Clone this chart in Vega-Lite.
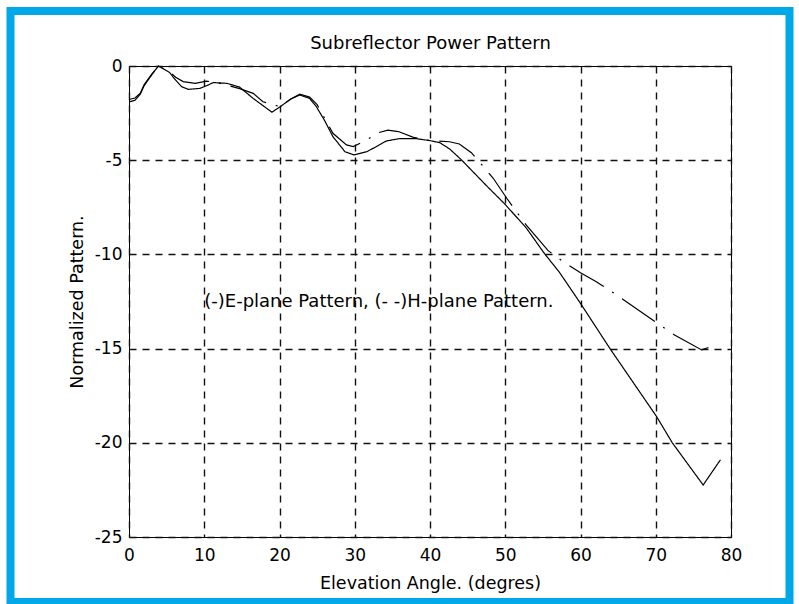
{
  "$schema": "https://vega.github.io/schema/vega-lite/v6.json",
  "width": 602,
  "height": 471,
  "autosize": {"type": "none"},
  "padding": {"left": 129, "top": 66, "right": 68, "bottom": 67},
  "background": "white",
  "config": {
    "view": {"stroke": "#000", "strokeWidth": 1},
    "axis": {
      "grid": true, "gridDash": [7, 6], "gridColor": "#111", "gridWidth": 1.4, "gridOpacity": 1,
      "ticks": false, "domain": false,
      "labelFont": "DejaVu Sans", "labelFontSize": 17, "labelColor": "#000",
      "titleFont": "DejaVu Sans", "titleFontSize": 17.5, "titleFontWeight": "normal", "titleColor": "#000",
      "labelFlush": false, "labelOverlap": false
    },
    "legend": {"padding": 0}
  },
  "resolve": {"axis": {"x": "independent"}},
  "datasets": {
    "curves": [
      {"angle": 0, "value": -1.9, "plane": "E"}, {"angle": 0.8, "value": -1.82, "plane": "E"}, {"angle": 1.5, "value": -1.5, "plane": "E"}, {"angle": 2.0, "value": -1.05, "plane": "E"}, {"angle": 3.0, "value": -0.48, "plane": "E"}, {"angle": 3.9, "value": 0.0, "plane": "E"}, {"angle": 5.4, "value": -0.35, "plane": "E"}, {"angle": 6.2, "value": -0.75, "plane": "E"}, {"angle": 7.0, "value": -1.1, "plane": "E"}, {"angle": 7.9, "value": -1.24, "plane": "E"}, {"angle": 9.4, "value": -1.19, "plane": "E"}, {"angle": 10.3, "value": -1.05, "plane": "E"}, {"angle": 11.2, "value": -0.88, "plane": "E"}, {"angle": 13.0, "value": -0.92, "plane": "E"}, {"angle": 14.7, "value": -1.12, "plane": "E"}, {"angle": 16.5, "value": -1.72, "plane": "E"}, {"angle": 18.3, "value": -2.25, "plane": "E"}, {"angle": 19.0, "value": -2.45, "plane": "E"}, {"angle": 20.1, "value": -2.16, "plane": "E"}, {"angle": 21.5, "value": -1.75, "plane": "E"}, {"angle": 22.7, "value": -1.54, "plane": "E"}, {"angle": 24.0, "value": -1.72, "plane": "E"}, {"angle": 24.9, "value": -2.16, "plane": "E"}, {"angle": 26.0, "value": -2.9, "plane": "E"}, {"angle": 27.1, "value": -3.75, "plane": "E"}, {"angle": 28.7, "value": -4.55, "plane": "E"}, {"angle": 29.9, "value": -4.72, "plane": "E"}, {"angle": 31.6, "value": -4.55, "plane": "E"}, {"angle": 33.0, "value": -4.25, "plane": "E"}, {"angle": 34.2, "value": -3.98, "plane": "E"}, {"angle": 36.0, "value": -3.85, "plane": "E"}, {"angle": 38.2, "value": -3.86, "plane": "E"}, {"angle": 40.0, "value": -3.96, "plane": "E"}, {"angle": 41.3, "value": -4.07, "plane": "E"}, {"angle": 42.6, "value": -4.4, "plane": "E"}, {"angle": 44.2, "value": -4.99, "plane": "E"}, {"angle": 47.5, "value": -6.35, "plane": "E"}, {"angle": 50.0, "value": -7.35, "plane": "E"}, {"angle": 52.8, "value": -8.6, "plane": "E"}, {"angle": 55.2, "value": -9.95, "plane": "E"}, {"angle": 57.2, "value": -10.95, "plane": "E"}, {"angle": 60.0, "value": -12.6, "plane": "E"}, {"angle": 63.9, "value": -14.99, "plane": "E"}, {"angle": 70.1, "value": -18.6, "plane": "E"}, {"angle": 72.2, "value": -20.0, "plane": "E"}, {"angle": 76.3, "value": -22.24, "plane": "E"}, {"angle": 78.6, "value": -20.9, "plane": "E"},
      {"angle": 0, "value": -1.78, "plane": "H"}, {"angle": 0.8, "value": -1.7, "plane": "H"}, {"angle": 1.5, "value": -1.45, "plane": "H"}, {"angle": 2.0, "value": -1.0, "plane": "H"}, {"angle": 3.0, "value": -0.45, "plane": "H"}, {"angle": 3.9, "value": 0.0, "plane": "H"}, {"angle": 5.4, "value": -0.3, "plane": "H"}, {"angle": 6.2, "value": -0.6, "plane": "H"}, {"angle": 7.2, "value": -0.83, "plane": "H"}, {"angle": 8.8, "value": -0.92, "plane": "H"}, {"angle": 10.3, "value": -0.8, "plane": "H"}, {"angle": 12.1, "value": -0.92, "plane": "H"}, {"angle": 14.7, "value": -1.2, "plane": "H"}, {"angle": 16.5, "value": -1.45, "plane": "H"}, {"angle": 17.8, "value": -1.9, "plane": "H"}, {"angle": 20.1, "value": -2.16, "plane": "H"}, {"angle": 21.5, "value": -1.75, "plane": "H"}, {"angle": 22.7, "value": -1.5, "plane": "H"}, {"angle": 24.0, "value": -1.65, "plane": "H"}, {"angle": 25.0, "value": -2.05, "plane": "H"}, {"angle": 27.1, "value": -3.57, "plane": "H"}, {"angle": 28.9, "value": -4.19, "plane": "H"}, {"angle": 29.8, "value": -4.28, "plane": "H"}, {"angle": 31.6, "value": -3.93, "plane": "H"}, {"angle": 32.9, "value": -3.57, "plane": "H"}, {"angle": 34.4, "value": -3.4, "plane": "H"}, {"angle": 35.8, "value": -3.48, "plane": "H"}, {"angle": 37.8, "value": -3.79, "plane": "H"}, {"angle": 40.0, "value": -3.96, "plane": "H"}, {"angle": 42.6, "value": -4.02, "plane": "H"}, {"angle": 43.9, "value": -4.14, "plane": "H"}, {"angle": 45.5, "value": -4.6, "plane": "H"}, {"angle": 47.1, "value": -5.34, "plane": "H"}, {"angle": 48.4, "value": -5.96, "plane": "H"}, {"angle": 50.2, "value": -7.02, "plane": "H"}, {"angle": 52.8, "value": -8.45, "plane": "H"}, {"angle": 55.7, "value": -9.8, "plane": "H"}, {"angle": 58.1, "value": -10.5, "plane": "H"}, {"angle": 60.0, "value": -10.97, "plane": "H"}, {"angle": 62.1, "value": -11.45, "plane": "H"}, {"angle": 64.8, "value": -12.15, "plane": "H"}, {"angle": 69.9, "value": -13.57, "plane": "H"}, {"angle": 72.5, "value": -14.28, "plane": "H"}, {"angle": 76.1, "value": -15.07, "plane": "H"}, {"angle": 78.0, "value": -14.8, "plane": "H"}
    ],
    "note": [
      {"angle": 10, "value": -12.5, "label": "(-)E-plane Pattern, (- -)H-plane Pattern.", "frame": "border"}
    ]
  },
  "layer": [
    {
      "data": {"name": "curves"},
      "mark": {"type": "line", "color": "#000", "strokeWidth": 1.2},
      "encoding": {
        "x": {"field": "angle", "type": "quantitative", "scale": {"domain": [0, 80], "nice": false, "zero": false},
              "axis": {"orient": "bottom", "values": [0, 10, 20, 30, 40, 50, 60, 70, 80], "labelPadding": 10, "title": "Elevation Angle. (degres)", "titlePadding": 11, "labelExpr": "'' + datum.value"}},
        "y": {"field": "value", "type": "quantitative", "scale": {"domain": [-25, 0], "nice": false, "zero": false},
              "axis": {"values": [-25, -20, -15, -10, -5, 0], "labelPadding": 7, "title": "Normalized Pattern.", "titlePadding": 8, "labelExpr": "'' + datum.value"}},
        "strokeDash": {"field": "plane", "type": "nominal", "scale": {"domain": ["E", "H"], "range": [[1, 0], [40, 10, 2, 10]]}, "legend": null}
      }
    },
    {
      "data": {"name": "note"},
      "mark": {"type": "text", "align": "left", "baseline": "middle", "font": "DejaVu Sans", "fontSize": 18, "color": "#000"},
      "encoding": {
        "x": {"field": "angle", "type": "quantitative",
              "axis": {"orient": "top", "title": "Subreflector Power Pattern", "titleFontSize": 18, "titlePadding": 14, "labels": false, "grid": false, "ticks": false, "domain": false}},
        "y": {"field": "value", "type": "quantitative"},
        "text": {"field": "label"}
      }
    },
    {
      "data": {"name": "note"},
      "mark": {"type": "rule", "color": "#00a8e8", "strokeWidth": 8, "strokeCap": "butt"},
      "encoding": {
        "x": {"datum": 0, "axis": null}, "x2": {"datum": 0},
        "y": {"datum": -25}, "y2": {"datum": -25},
        "opacity": {"field": "frame", "type": "ordinal", "scale": {"range": [1]},
          "legend": {"title": null, "orient": "none", "legendX": -122.5, "legendY": -153, "padding": 0,
                     "symbolType": "M-1,-0.7587L1,-0.7587L1,0.7587L-1,0.7587Z", "symbolSize": 606841,
                     "symbolStrokeWidth": 8, "symbolStrokeColor": "#00a8e8", "symbolFillColor": "transparent",
                     "labelExpr": "''", "labelFontSize": 1, "labelLimit": 1}}
      }
    }
  ]
}
